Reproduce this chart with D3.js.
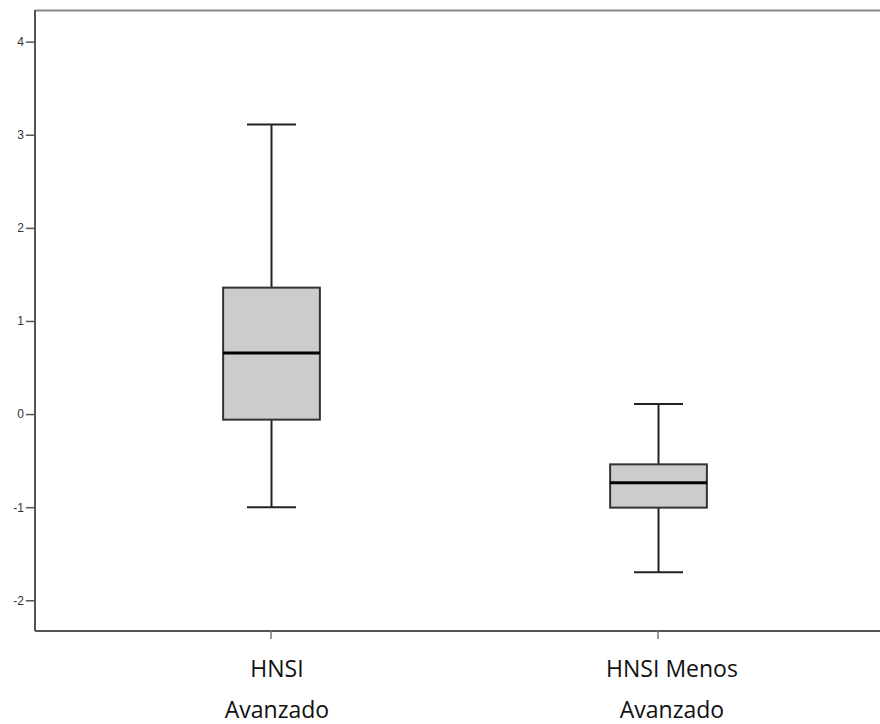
<!DOCTYPE html>
<html><head><meta charset="utf-8">
<script src="https://cdn.jsdelivr.net/npm/d3@7"></script>
<style>body{margin:0;background:#fff}svg{display:block}</style>
</head><body>
<svg id="c" width="880" height="724"></svg>
<script>
const categories = ["HNSI Avanzado", "HNSI Menos Avanzado"];
const labelLines = [["HNSI", "Avanzado"], ["HNSI Menos", "Avanzado"]];
const whiskerMin = [-1.00, -1.70];
const q1 = [-0.06, -1.005];
const median = [0.655, -0.737];
const q3 = [1.358, -0.54];
const whiskerMax = [3.11, 0.107];
const yTicks = [-2, -1, 0, 1, 2, 3, 4];

(function () {
const svg = d3.select("#c");
const plotLeft = 35, plotTop = 10, plotBottom = 631;
const y = d3.scaleLinear().domain([-2.33, 4.34]).range([plotBottom, plotTop]);
const x = d3.scaleBand().domain(categories).range([77.5, 851.5]);
const bw = x.step() * 0.25, capW = 49;

// frame
svg.append("line").attr("x1", plotLeft).attr("x2", 880).attr("y1", plotTop + 0.5).attr("y2", plotTop + 0.5)
  .attr("stroke", "#888").attr("stroke-width", 2);

// y axis
const ya = svg.append("g").attr("transform", `translate(${plotLeft},0)`)
  .call(d3.axisLeft(y).tickValues(yTicks).tickSize(9).tickPadding(2).tickFormat(d => String(d)));
ya.select(".domain").attr("stroke", "#555").attr("stroke-width", 2).attr("d", `M0,${plotTop}V${plotBottom}`);
ya.selectAll(".tick line").attr("stroke", "#555").attr("stroke-width", 1.5);
ya.selectAll(".tick text").attr("font-family", "Liberation Sans, Arial, sans-serif").attr("font-size", 12).attr("fill", "#333");

// x axis
const xa = svg.append("g").attr("transform", `translate(0,${plotBottom})`)
  .call(d3.axisBottom(x).tickSize(8).tickFormat(""));
xa.select(".domain").attr("stroke", "#555").attr("stroke-width", 2).attr("d", `M${plotLeft},0H880`);
xa.selectAll(".tick line").attr("stroke", "#777").attr("stroke-width", 1.5);

// category labels
categories.forEach((c, i) => {
  const cx = x(c) + x.bandwidth() / 2 + (i === 0 ? 6 : 14);
  const t = svg.append("text").attr("text-anchor", "middle")
    .attr("font-family", "Open Sans, sans-serif").attr("font-size", 23).attr("fill", "#111");
  labelLines[i].forEach((ln, j) => {
    t.append("tspan").attr("x", cx).attr("y", 677 + j * 41).text(ln);
  });
});

// boxes
categories.forEach((c, i) => {
  const cx = Math.round(x(c) + x.bandwidth() / 2) + 0.5;
  const g = svg.append("g");
  g.append("line").attr("x1", cx).attr("x2", cx).attr("y1", y(whiskerMax[i])).attr("y2", y(q3[i]))
    .attr("stroke", "#222").attr("stroke-width", 2);
  g.append("line").attr("x1", cx).attr("x2", cx).attr("y1", y(q1[i])).attr("y2", y(whiskerMin[i]))
    .attr("stroke", "#222").attr("stroke-width", 2);
  [whiskerMax[i], whiskerMin[i]].forEach(v => {
    g.append("line").attr("x1", cx - capW / 2).attr("x2", cx + capW / 2).attr("y1", y(v)).attr("y2", y(v))
      .attr("stroke", "#222").attr("stroke-width", 2);
  });
  g.append("rect").attr("x", cx - bw / 2).attr("width", bw)
    .attr("y", y(q3[i])).attr("height", y(q1[i]) - y(q3[i]))
    .attr("fill", "#cccccc").attr("stroke", "#333").attr("stroke-width", 2);
  g.append("line").attr("x1", cx - bw / 2).attr("x2", cx + bw / 2).attr("y1", y(median[i])).attr("y2", y(median[i]))
    .attr("stroke", "#000").attr("stroke-width", 3);
});
})();
</script>
</body></html>
